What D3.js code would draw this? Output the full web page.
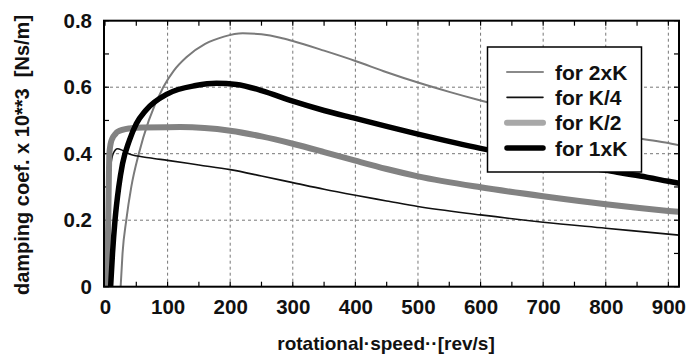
<!DOCTYPE html>
<html>
<head>
<meta charset="utf-8">
<script src="https://cdn.jsdelivr.net/npm/d3@7/dist/d3.min.js"></script>
<style>
  html, body { margin: 0; padding: 0; background: #fff; }
  svg { display: block; font-family: "Liberation Sans", Arial, sans-serif; font-weight: bold; }
</style>
</head>
<body>
<svg id="chart" width="698" height="358"></svg>
<script>
// rotational speed [rev/s] and damping coef. x 10**3 [Ns/m] for each stiffness case
const speed2K = [25, 28, 34, 42, 54, 70, 93, 110, 130, 160, 190, 220, 250, 280, 300, 350, 400, 450, 500, 550, 600, 700, 800, 855, 900, 917]
const coef2K  = [0, 0.1, 0.2, 0.3, 0.4, 0.5, 0.6, 0.65, 0.69, 0.73, 0.752, 0.762, 0.759, 0.749, 0.739, 0.71, 0.679, 0.645, 0.614, 0.586, 0.56, 0.514, 0.468, 0.446, 0.432, 0.425]

const speedK4 = [2, 4, 6, 9, 13, 20, 28, 40, 70, 100, 150, 200, 250, 300, 350, 400, 450, 500, 600, 700, 800, 900, 917]
const coefK4  = [0, 0.15, 0.28, 0.36, 0.4, 0.415, 0.41, 0.398, 0.388, 0.38, 0.366, 0.352, 0.333, 0.313, 0.293, 0.275, 0.258, 0.241, 0.216, 0.194, 0.176, 0.158, 0.155]

const speedK2 = [3, 5, 7, 9, 12, 16, 20, 39, 60, 120, 200, 250, 300, 350, 400, 450, 500, 600, 700, 800, 900, 917]
const coefK2  = [0, 0.18, 0.4, 0.43, 0.447, 0.458, 0.466, 0.476, 0.479, 0.48, 0.469, 0.452, 0.43, 0.405, 0.379, 0.354, 0.332, 0.299, 0.272, 0.248, 0.228, 0.225]

const speed1K = [9, 12, 16, 22, 28, 39, 50, 65, 100, 145, 178, 210, 250, 300, 350, 400, 450, 500, 600, 700, 800, 855, 900, 917]
const coef1K  = [0, 0.1, 0.2, 0.3, 0.37, 0.44, 0.49, 0.53, 0.58, 0.605, 0.612, 0.608, 0.59, 0.558, 0.53, 0.506, 0.482, 0.459, 0.416, 0.381, 0.35, 0.333, 0.317, 0.311]

const xTicks = [0, 100, 200, 300, 400, 500, 600, 700, 800, 900]
const yTicks = [0, 0.2, 0.4, 0.6, 0.8]
const legendLabels = ['for 2xK', 'for K/4', 'for K/2', 'for 1xK']

const series = [
  { label: legendLabels[0], x: speed2K, y: coef2K, color: '#7a7a7a', legendColor: '#8a8a8a', width: 2 },
  { label: legendLabels[1], x: speedK4, y: coefK4, color: '#111', legendColor: '#111', width: 1.6 },
  { label: legendLabels[2], x: speedK2, y: coefK2, color: '#828282', legendColor: '#a8a8a8', width: 6 },
  { label: legendLabels[3], x: speed1K, y: coef1K, color: '#000', legendColor: '#000', width: 5.5 }
]

const plotLeft = 104, plotRight = 679, plotTop = 20.7, plotBottom = 286.7
const svg = d3.select('#chart')

const x = d3.scaleLinear().domain([0, 917]).range([plotLeft + 1, plotRight])
const y = d3.scaleLinear().domain([0, 0.8]).range([plotBottom, plotTop])

// グリッド
const grid = svg.append('g')
grid.selectAll('line.vx')
  .data(xTicks.filter(d => d > 0))
  .enter().append('line')
  .attr('x1', d => x(d)).attr('x2', d => x(d))
  .attr('y1', plotTop).attr('y2', plotBottom)
  .attr('stroke', '#777').attr('stroke-width', 1).attr('stroke-dasharray', '3,3')
grid.selectAll('line.hy')
  .data(yTicks.filter(d => d > 0 && d < 0.8))
  .enter().append('line')
  .attr('x1', plotLeft).attr('x2', plotRight)
  .attr('y1', d => y(d)).attr('y2', d => y(d))
  .attr('stroke', '#777').attr('stroke-width', 1).attr('stroke-dasharray', '3,3')

// 小目盛り（内向き）
const xMinor = d3.range(0, 917, 50)
const yMinor = d3.range(0, 0.81, 0.1)
const ticks = svg.append('g').attr('stroke', '#000').attr('stroke-width', 1.2)
xMinor.forEach(v => {
  ticks.append('line').attr('x1', x(v)).attr('x2', x(v)).attr('y1', plotTop).attr('y2', plotTop + 5)
  ticks.append('line').attr('x1', x(v)).attr('x2', x(v)).attr('y1', plotBottom).attr('y2', plotBottom - 5)
})
yMinor.forEach(v => {
  ticks.append('line').attr('x1', plotLeft).attr('x2', plotLeft + 5).attr('y1', y(v)).attr('y2', y(v))
  ticks.append('line').attr('x1', plotRight).attr('x2', plotRight - 5).attr('y1', y(v)).attr('y2', y(v))
})

// 曲線
svg.append('clipPath').attr('id', 'plot-clip')
  .append('rect').attr('x', plotLeft).attr('y', plotTop)
  .attr('width', plotRight - plotLeft).attr('height', plotBottom - plotTop)

const line = d3.line()
  .x(d => x(d[0]))
  .y(d => y(d[1]))
  .curve(d3.curveMonotoneX)

const curves = svg.append('g').attr('clip-path', 'url(#plot-clip)')
series.forEach(s => {
  const pts = s.x.map((v, i) => [v, s.y[i]])
  curves.append('path')
    .attr('d', line(pts))
    .attr('fill', 'none')
    .attr('stroke', s.color)
    .attr('stroke-width', s.width)
    .attr('stroke-linejoin', 'round')
})

// 枠
svg.append('rect')
  .attr('x', plotLeft).attr('y', plotTop)
  .attr('width', plotRight - plotLeft).attr('height', plotBottom - plotTop)
  .attr('fill', 'none').attr('stroke', '#000').attr('stroke-width', 2)

// 軸ラベル
const xAxis = svg.append('g')
  .attr('transform', `translate(0,${plotBottom})`)
  .call(d3.axisBottom(x).tickValues(xTicks).tickSize(0).tickPadding(13).tickFormat(d3.format('d')))
xAxis.select('.domain').remove()
xAxis.selectAll('text').attr('font-size', 20.5).attr('font-family', null).attr('fill', '#111')

const yAxis = svg.append('g')
  .attr('transform', `translate(${plotLeft},0)`)
  .call(d3.axisLeft(y).tickValues(yTicks).tickSize(0).tickPadding(12)
    .tickFormat(d => (d === 0 ? '0' : d3.format('.1f')(d))))
yAxis.select('.domain').remove()
yAxis.selectAll('text').attr('font-size', 20.5).attr('font-family', null).attr('fill', '#111')

svg.append('text')
  .attr('x', 386).attr('y', 350)
  .attr('text-anchor', 'middle')
  .attr('font-size', 19).attr('fill', '#111')
  .text('rotational·speed··[rev/s]')

svg.append('text')
  .attr('transform', 'translate(29,155) rotate(-90)')
  .attr('text-anchor', 'middle')
  .attr('font-size', 20).attr('fill', '#111')
  .attr('xml:space', 'preserve')
  .text('damping coef. x 10**3  [Ns/m]')

// 凡例
const legend = svg.append('g')
legend.append('rect')
  .attr('x', 487.5).attr('y', 47)
  .attr('width', 154).attr('height', 125)
  .attr('fill', '#fff').attr('stroke', '#000').attr('stroke-width', 1.5)
const rowY = d3.scalePoint().domain(legendLabels).range([72, 148])
series.forEach(s => {
  legend.append('line')
    .attr('x1', 507).attr('x2', 543)
    .attr('y1', rowY(s.label)).attr('y2', rowY(s.label))
    .attr('stroke', s.legendColor).attr('stroke-width', s.width)
    .attr('stroke-linecap', 'round')
  legend.append('text')
    .attr('x', 555).attr('y', rowY(s.label) + 7.5)
    .attr('font-size', 21).attr('fill', '#111')
    .text(s.label)
})
</script>
</body>
</html>
